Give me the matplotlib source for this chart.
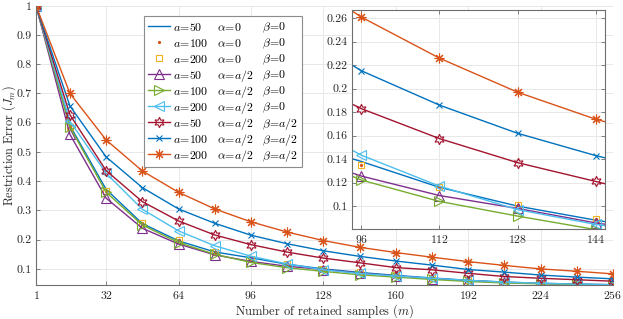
import numpy as np
import matplotlib
matplotlib.use('Agg')
import matplotlib.pyplot as plt

plt.rcParams['font.family'] = 'cmr10'
plt.rcParams['mathtext.fontset'] = 'cm'
plt.rcParams['axes.formatter.use_mathtext'] = True

#==============================================
#---------------- data -------------------------
#==============================================
m = [1, 16, 32, 48, 64, 80, 96, 112, 128, 144, 160, 176, 192, 208, 224, 240, 256]

# alpha = 0, beta = 0
a50_00 = [1, 0.590, 0.372, 0.255, 0.196, 0.158, 0.138, 0.116, 0.100, 0.088, 0.078, 0.069, 0.061, 0.055, 0.051, 0.048, 0.046]
a100_00 = [1, 0.585, 0.367, 0.258, 0.199, 0.157, 0.135, 0.116, 0.101, 0.089, 0.079, 0.070, 0.062, 0.056, 0.052, 0.049, 0.047]
a200_00 = [1, 0.585, 0.367, 0.258, 0.199, 0.157, 0.135, 0.116, 0.101, 0.089, 0.079, 0.070, 0.062, 0.056, 0.052, 0.049, 0.047]
# alpha = a/2, beta = 0
a50_h0 = [1, 0.560, 0.342, 0.239, 0.185, 0.148, 0.1256, 0.109, 0.098, 0.0857, 0.076, 0.067, 0.060, 0.054, 0.050, 0.047, 0.046]
a100_h0 = [1, 0.585, 0.362, 0.250, 0.190, 0.150, 0.1222, 0.104, 0.0915, 0.080, 0.072, 0.064, 0.057, 0.052, 0.049, 0.047, 0.045]
a200_h0 = [1, 0.605, 0.427, 0.304, 0.230, 0.179, 0.1434, 0.117, 0.097, 0.0844, 0.076, 0.068, 0.061, 0.055, 0.051, 0.048, 0.046]
# alpha = a/2, beta = a/2
a50_hh = [1, 0.627, 0.436, 0.330, 0.264, 0.216, 0.183, 0.1575, 0.137, 0.121, 0.1045, 0.097, 0.085, 0.074, 0.068, 0.063, 0.058]
a100_hh = [1, 0.657, 0.483, 0.378, 0.305, 0.256, 0.2153, 0.186, 0.162, 0.143, 0.127, 0.113, 0.098, 0.089, 0.079, 0.072, 0.066]
a200_hh = [1, 0.700, 0.541, 0.435, 0.362, 0.305, 0.261, 0.226, 0.197, 0.174, 0.156, 0.140, 0.125, 0.112, 0.100, 0.092, 0.083]

a_lab = ['50', '100', '200'] * 3
alpha_lab = ['0'] * 3 + ['a/2'] * 6
beta_lab = ['0'] * 6 + ['a/2'] * 3

main_xticks = [1, 32, 64, 96, 128, 160, 192, 224, 256]
main_yticks = [0.1, 0.2, 0.3, 0.4, 0.5, 0.6, 0.7, 0.8, 0.9, 1.0]
ins_xticks = [96, 112, 128, 144]
ins_yticks = [0.1, 0.12, 0.14, 0.16, 0.18, 0.2, 0.22, 0.24, 0.26]

series = [a50_00, a100_00, a200_00, a50_h0, a100_h0, a200_h0, a50_hh, a100_hh, a200_hh]

# matlab default colours
c1 = '#0072BD'; c2 = '#D95319'; c3 = '#EDB120'; c4 = '#7E2F8E'
c5 = '#77AC30'; c6 = '#4DBEEE'; c7 = '#A2142F'
styles = [
    dict(color=c1, ls='-', marker='None'),
    dict(color=c2, ls='None', marker='.', ms=3),
    dict(color=c3, ls='None', marker='s', ms=5, mfc='none'),
    dict(color=c4, ls='-', marker='^', ms=7, mfc='none'),
    dict(color=c5, ls='-', marker='>', ms=7, mfc='none'),
    dict(color=c6, ls='-', marker='<', ms=7, mfc='none'),
    dict(color=c7, ls='-', marker=(6, 1, 0), ms=7.5, mfc='none'),
    dict(color=c1, ls='-', marker='x', ms=5),
    dict(color=c2, ls='-', marker=(8, 2, 0), ms=7),
]

tcol = '#262626'
spcol = '#6e6e6e'
gridcol = '#e8e8e8'

fig = plt.figure(figsize=(6.23, 3.19), dpi=100)
ax = fig.add_axes([36/623, 34/319, 577/623, 279.25/319])

def style_axes(a, box):
    for s in ['left', 'bottom', 'top', 'right']:
        a.spines[s].set_color(spcol)
        a.spines[s].set_linewidth(0.8)
    if not box:
        a.spines['top'].set_visible(False)
        a.spines['right'].set_visible(False)
    a.tick_params(direction='in', length=3, width=0.6, color=spcol,
                  labelsize=8.5, labelcolor=tcol, top=box, right=box, pad=3)
    a.grid(True, color=gridcol, linewidth=0.7)
    a.set_axisbelow(True)

for vals, st in zip(series, styles):
    ax.plot(m, vals, lw=1.0, mew=0.8, **st)

ax.set_xlim(1, 256)
ax.set_ylim(0.045, 1.0)
ax.set_xticks(main_xticks)
ax.set_yticks(main_yticks)
ax.set_yticklabels(['%g' % v for v in main_yticks])
style_axes(ax, False)
ax.set_xlabel('Number of retained samples ($m$)', fontsize=9, color=tcol, labelpad=0.5)
ax.set_ylabel('Restriction Error ($J_m$)', fontsize=8.8, color=tcol)
ax.yaxis.set_label_coords((18 - 36) / 577, 0.5)

# legend: hidden full-width label, columns drawn on top
full = r'$a\!=\!200\quad\alpha\!=\!a/2\quad\beta\!=\!a/2$'
leg = ax.legend(ax.get_lines(), [full] * 9, loc='upper left',
                bbox_to_anchor=(108/577, (285-16)/279.25), borderaxespad=0,
                fontsize=8.5, fancybox=False, framealpha=1, edgecolor='#8c8c8c',
                handlelength=1.9, handletextpad=0.25, labelspacing=0.0,
                borderpad=0.3)
leg.get_frame().set_linewidth(0.8)
for t in leg.get_texts():
    t.set_alpha(0)

# inset
axi = fig.add_axes([352/623, 90/319, 253/623, 219/319])
for vals, st in zip(series, styles):
    axi.plot(m, vals, lw=1.0, mew=0.8, **st)
axi.set_xlim(94.1, 145.9)
axi.set_ylim(0.0805, 0.267)
axi.set_xticks(ins_xticks)
axi.set_yticks(ins_yticks)
axi.set_yticklabels(['%g' % v for v in ins_yticks])
style_axes(axi, True)
axi.patch.set_facecolor('white')

fig.canvas.draw()
inv = fig.transFigure.inverted()
for t, al, be, ab in zip(leg.get_texts(), alpha_lab, beta_lab, a_lab):
    px, py = t.get_transform().transform(t.get_position())
    for dx, s in [(0, r'$a\!=\!%s$' % ab), (44, r'$\alpha\!=\!%s$' % al), (89, r'$\beta\!=\!%s$' % be)]:
        fx, fy = inv.transform((px + dx, py))
        fig.text(fx, fy, s, fontsize=8.5, color='black', ha='left',
                 va=t.get_va(), zorder=10)

fig.savefig('out.png', dpi=100)
